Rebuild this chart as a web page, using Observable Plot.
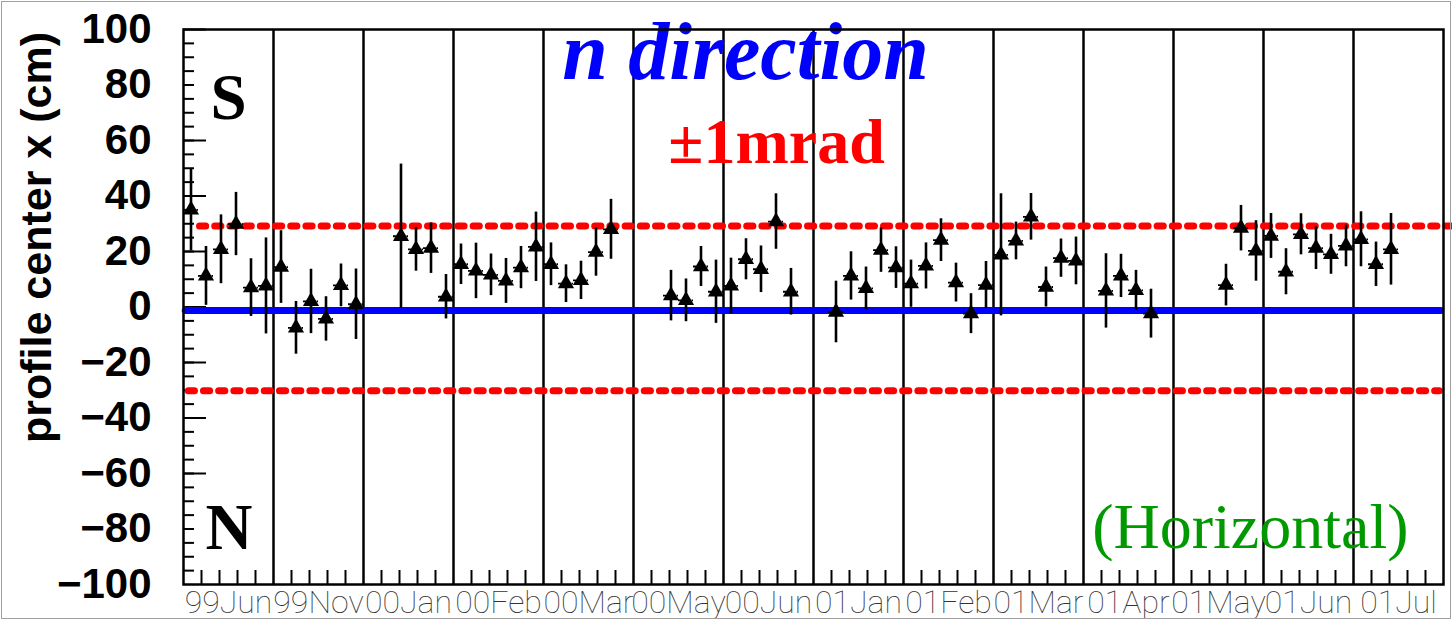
<!DOCTYPE html>
<html>
<head>
<meta charset="utf-8">
<script src="https://cdn.jsdelivr.net/npm/d3@7"></script>
<script src="https://cdn.jsdelivr.net/npm/@observablehq/plot@0.6"></script>
<style>
  html, body { margin: 0; padding: 0; background: #fff; }
  #chart svg { display: block; outline: 1px solid #a0a0a0; outline-offset: -2px; }
</style>
</head>
<body>
<div id="chart"></div>
<script>
// Run periods along the horizontal axis (6 measurement slots per period)
const periods = ["99Jun", "99Nov", "00Jan", "00Feb", "00Mar", "00May", "00Jun",
                 "01Jan", "01Feb", "01Mar", "01Apr", "01May", "01Jun", "01Jul"];
const slotsPerPeriod = 6;

// Profile centre measurements: slot index, value (cm), error (cm)
const slots = [0, 1, 2, 3, 4, 5, 6, 7, 8, 9, 10, 11,
               14, 15, 16, 17, 18, 19, 20, 21, 22, 23,
               24, 25, 26, 27, 28, 32, 33, 34, 35,
               36, 37, 38, 39, 40, 43, 44, 45, 46, 47,
               48, 49, 50, 51, 52, 53, 54, 55, 56, 57, 58, 59,
               61, 62, 63, 64, 69, 70, 71,
               72, 73, 74, 75, 76, 77, 78, 79, 80];
const centers = [35.0, 11.2, 20.8, 29.9, 7.0, 7.6, 14.4, -7.5, 2.0, -4.3, 7.8, 1.0,
                 25.5, 20.8, 21.2, 3.7, 15.4, 13.0, 11.6, 9.4, 14.2, 21.7,
                 15.4, 8.4, 9.6, 19.8, 28.0, 4.1, 2.4, 14.6, 5.5,
                 7.6, 17.2, 13.6, 30.8, 5.5, -1.8, 11.2, 6.7, 20.5, 14.2,
                 8.4, 14.8, 24.1, 8.8, -2.4, 7.9, 18.8, 23.8, 32.5, 7.2, 17.6, 16.6,
                 5.8, 11.2, 6.0, -2.4, 7.9, 28.4, 20.2,
                 25.6, 12.7, 26.2, 21.2, 19.0, 22.0, 24.4, 15.4, 20.8];
const errors = [14.8, 10.6, 12.4, 11.4, 10.4, 17.3, 13.1, 9.5, 11.6, 8.0, 7.7, 12.7,
                26.0, 7.9, 9.1, 8.0, 7.3, 10.0, 7.5, 8.1, 7.6, 12.5,
                7.7, 6.8, 6.9, 8.7, 10.8, 9.1, 7.7, 7.2, 11.4,
                10.0, 7.4, 8.4, 10.0, 8.4, 11.1, 8.7, 7.7, 8.0, 7.5,
                8.5, 8.3, 7.7, 7.0, 7.2, 8.5, 22.0, 6.8, 8.4, 7.2, 6.9, 8.6,
                13.4, 7.8, 7.2, 8.8, 7.5, 8.2, 10.9,
                8.1, 8.3, 7.4, 7.7, 7.2, 7.5, 9.9, 8.0, 12.9];

// Nominal beam line and the ±1 mrad limits
const nominal = [{y: -1.3, from: 0.15, to: 83.85}];
const limits = [{y: 29.2, from: 1.1, to: 84.6}, {y: -30.2, from: 0.35, to: 83.75}];

// Vertical axis ticks
const yLabels = d3.range(-100, 101, 20);
const yMajor = [-60, -40, -20, 0, 20, 40, 60, 100];
const yMinor = d3.range(-95, 100, 5);

const points = slots.map((s, i) => ({slot: s, value: centers[i], err: errors[i]}));
const nSlots = periods.length * slotsPerPeriod;
const periodEdges = d3.range(1, periods.length).map(i => i * slotsPerPeriod);
const periodMid = periods.map((p, i) => i * slotsPerPeriod + slotsPerPeriod / 2);
const xMinor = periods.flatMap((p, i) => [1, 2, 3, 4].map(k => i * slotsPerPeriod + k * slotsPerPeriod / 5));

const W = 1452, H = 620;
const mL = 183, mR = 9, mT = 29, mB = 36;
const fw = W - mL - mR, fh = H - mT - mB;

const serif = "'Liberation Serif', 'DejaVu Serif', serif";
const sans = "'Liberation Sans', Arial, sans-serif";

const note = (txt, o) => Plot.text([txt], {text: d => d, frameAnchor: "top-left", lineAnchor: "middle", ...o});

const chart = Plot.plot({
  width: W,
  height: H,
  marginLeft: mL,
  marginRight: mR,
  marginTop: mT,
  marginBottom: mB,
  style: {fontFamily: sans, background: "#fff", overflow: "visible"},
  x: {domain: [0, nSlots]},
  y: {domain: [-100, 100]},
  marks: [
    // period separators
    Plot.ruleX(periodEdges, {stroke: "#000", strokeWidth: 2.5}),
    // minor ticks along the bottom
    Plot.ruleX(xMinor, {stroke: "#000", strokeWidth: 2, insetTop: fh - 14}),
    // ticks along the left side
    Plot.ruleY(yMinor, {stroke: "#000", strokeWidth: 2, insetRight: fw - 11}),
    Plot.ruleY(yMajor, {stroke: "#000", strokeWidth: 2, insetRight: fw - 23}),
    // ±1 mrad limits (rounded dashes)
    Plot.ruleY(limits, {y: "y", x1: "from", x2: "to", stroke: "#ff0000", strokeWidth: 7,
      strokeDasharray: "6.2,9", strokeLinecap: "round", clip: false, ariaLabel: "limit"}),
    // nominal line
    Plot.ruleY(nominal, {y: "y", x1: "from", x2: "to", stroke: "#0000ff", strokeWidth: 7,
      strokeLinecap: "round", ariaLabel: "nominal"}),
    // error bars
    Plot.ruleX(points, {x: d => d.slot + 0.5, y1: d => d.value - d.err, y2: d => d.value + d.err,
      stroke: "#000", strokeWidth: 2.6}),
    // slot width markers
    Plot.ruleY(points, {y: "value", x1: "slot", x2: d => d.slot + 1, stroke: "#000",
      strokeWidth: 1.8, strokeDasharray: "3,1.5"}),
    Plot.dot(points, {x: d => d.slot + 0.5, y: "value", symbol: "triangle", r: 6, fill: "#000", stroke: "none"}),
    // annotations
    note("n direction", {dx: 562, dy: 22.8, textAnchor: "middle", fontSize: 82, fontFamily: serif,
      fontWeight: "bold", fontStyle: "italic", fill: "#0000ff"}),
    note("±1mrad", {dx: 593, dy: 113.5, textAnchor: "middle", fontSize: 64, fontFamily: serif,
      fontWeight: "bold", fill: "#ff0000"}),
    note("S", {dx: 27, dy: 68.2, textAnchor: "start", fontSize: 65, fontFamily: serif,
      fontWeight: "bold", fill: "#000"}),
    note("N", {dx: 22, dy: 498.2, textAnchor: "start", fontSize: 65, fontFamily: serif,
      fontWeight: "bold", fill: "#000"}),
    note("(Horizontal)", {dx: 1225, dy: 498.5, textAnchor: "end", fontSize: 64, fontFamily: serif,
      fill: "#009900"}),
    Plot.text(["profile center x (cm)"], {text: d => d, frameAnchor: "left", lineAnchor: "middle",
      rotate: -90, dx: -146, dy: -69.5, textAnchor: "middle", fontSize: 43, fontFamily: sans,
      fontWeight: "bold", fill: "#000"}),
    Plot.frame({stroke: "#000", strokeWidth: 2.5}),
    // axes
    Plot.axisY(yLabels, {tickSize: 0, tickPadding: 32, label: null, fontSize: 42, fontWeight: "bold",
      fontFamily: sans, fill: "#000"}),
    Plot.axisX(periodMid, {tickSize: 0, tickPadding: 6, label: null, fontSize: 32, fontWeight: 100,
      fontFamily: "Roboto, 'DejaVu Sans', sans-serif", fill: "#333", letterSpacing: 2.2,
      tickFormat: d => periods[(d - slotsPerPeriod / 2) / slotsPerPeriod]})
  ]
});

// make sure the limit and nominal lines get rounded ends
d3.select(chart).selectAll('g[aria-label="limit"], g[aria-label="nominal"]')
  .attr("stroke-linecap", "round");
d3.select(chart).selectAll('g[aria-label="limit"] line').attr("stroke-linecap", "round");

document.getElementById("chart").appendChild(chart);
</script>
</body>
</html>
